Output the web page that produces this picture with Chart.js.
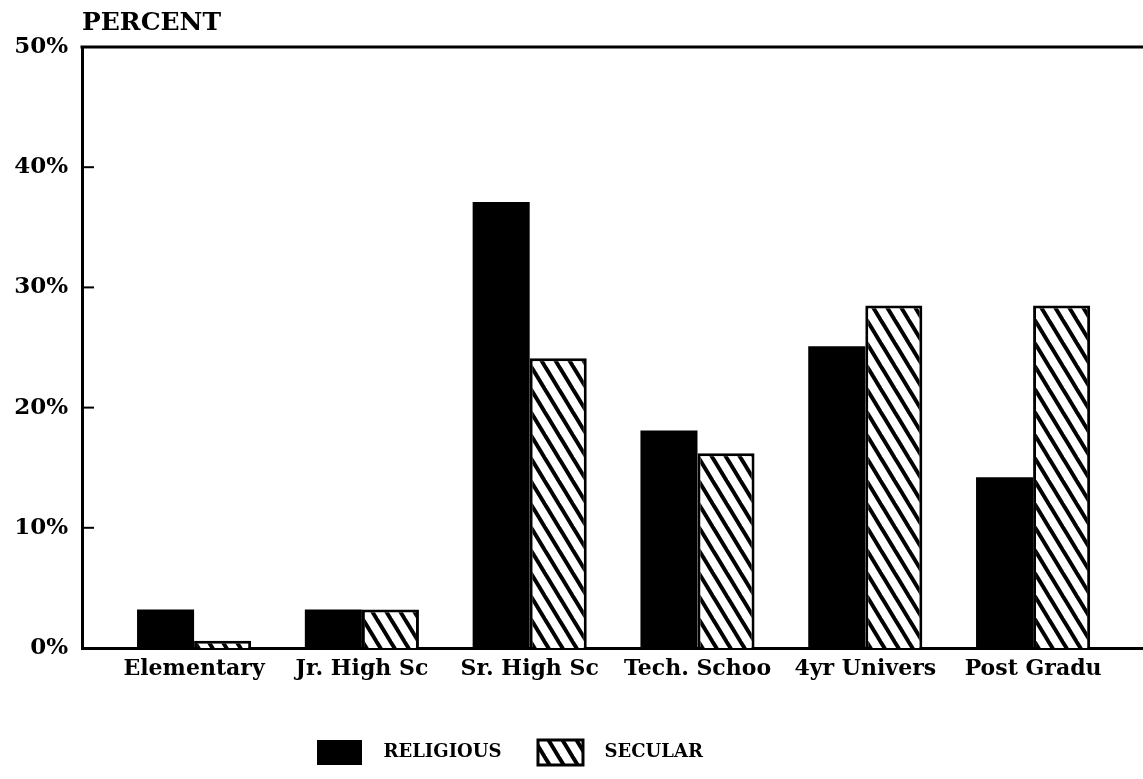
<!DOCTYPE html>
<html>
<head>
<meta charset="utf-8">
<script src="https://cdn.jsdelivr.net/npm/chart.js@4/dist/chart.umd.min.js"></script>
<style>
  html, body { margin: 0; padding: 0; background: #fff; }
  #wrap { width: 1143px; height: 779px; }
</style>
</head>
<body>
<div id="wrap"><canvas id="eduChart" width="1143" height="779"></canvas></div>
<script>
const categories = ['Elementary', 'Jr. High Sc', 'Sr. High Sc', 'Tech. Schoo', '4yr Univers', 'Post Gradu'];
const religious = [3.2, 3.2, 37.1, 18.1, 25.1, 14.2];
const secular = [0.6, 3.2, 24.1, 16.2, 28.5, 28.5];
const yTicks = [0, 10, 20, 30, 40, 50];

const FONT = '"DejaVu Serif", serif';

// diagonal hatch for the secular bars
function makeHatch() {
    const w = 14, h = 23;
    const c = document.createElement('canvas');
    c.width = w; c.height = h;
    const g = c.getContext('2d');
    g.fillStyle = '#fff';
    g.fillRect(0, 0, w, h);
    g.strokeStyle = '#000';
    g.lineWidth = 4;
    for (let o = -2 * w; o <= 2 * w; o += w) {
        g.beginPath();
        g.moveTo(o - w, -h);
        g.lineTo(o + 2 * w, 2 * h);
        g.stroke();
    }
    return g.createPattern(c, 'repeat');
}

const frame = {
    id: 'frame',
    afterLayout(chart) {
        // legend sits left of centre in the original
        chart.legend.left = 317 - chart.legend.options.labels.padding;
    },
    afterDraw(chart) {
        const { ctx, chartArea: a, scales } = chart;
        ctx.save();
        ctx.strokeStyle = '#000';
        ctx.lineWidth = 3;
        ctx.beginPath();
        ctx.moveTo(a.left - 1.5, a.top);
        ctx.lineTo(chart.width, a.top);
        ctx.stroke();
        ctx.lineWidth = 2;
        yTicks.forEach(v => {
            const y = scales.y.getPixelForValue(v);
            ctx.beginPath();
            ctx.moveTo(a.left, y);
            ctx.lineTo(a.left + 12, y);
            ctx.stroke();
        });
        ctx.fillStyle = '#000';
        ctx.font = 'bold 25px ' + FONT;
        ctx.textBaseline = 'alphabetic';
        ctx.textAlign = 'left';
        ctx.fillText('PERCENT', a.left, a.top - 17);
        ctx.restore();
    }
};

new Chart(document.getElementById('eduChart'), {
    type: 'bar',
    data: {
        datasets: [{
            label: 'RELIGIOUS',
            data: religious.map((v, i) => ({ x: i, y: v })),
            backgroundColor: '#000',
            borderColor: '#000',
            borderWidth: 0
        }, {
            label: 'SECULAR',
            data: secular.map((v, i) => ({ x: i, y: v })),
            backgroundColor: makeHatch(),
            borderColor: '#000',
            borderWidth: 3
        }]
    },
    options: {
        responsive: false,
        animation: false,
        categoryPercentage: 0.68,
        barPercentage: 1,
        layout: { padding: { top: 47, right: 0, left: 0, bottom: 4 } },
        scales: {
            x: {
                type: 'linear',
                offset: false,
                min: -0.668,
                max: 5.655,
                afterFit: s => { s.height = 68; },
                ticks: {
                    stepSize: 1,
                    includeBounds: false,
                    autoSkip: false,
                    maxRotation: 0,
                    color: '#000',
                    padding: 8,
                    font: { family: FONT, size: 22, weight: 'bold' },
                    callback: v => categories[v] ?? ''
                },
                grid: { display: false, drawTicks: false },
                border: { display: true, color: '#000', width: 3 }
            },
            y: {
                min: 0,
                max: 50,
                afterFit: s => { s.width = 82; },
                afterBuildTicks: s => { s.ticks = yTicks.map(v => ({ value: v })); },
                ticks: {
                    color: '#000',
                    padding: 14,
                    font: { family: FONT, size: 23, weight: 'bold' },
                    callback: v => v + '%'
                },
                grid: { display: false, drawTicks: false },
                border: { display: true, color: '#000', width: 3 }
            }
        },
        plugins: {
            tooltip: { enabled: false },
            legend: {
                position: 'bottom',
                align: 'start',
                labels: {
                    boxWidth: 45,
                    boxHeight: 25,
                    padding: 24,
                    color: '#000',
                    font: { family: FONT, size: 18, weight: 'bold' },
                    generateLabels: chart => Chart.defaults.plugins.legend.labels.generateLabels(chart)
                        .map(it => ({ ...it, text: '  ' + it.text + '  ' }))
                }
            }
        }
    },
    plugins: [frame]
});
</script>
</body>
</html>
